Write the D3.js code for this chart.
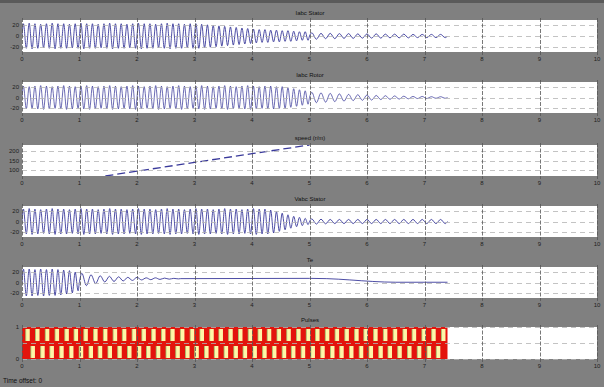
<!DOCTYPE html>
<html><head><meta charset="utf-8">
<script src="https://cdn.jsdelivr.net/npm/d3@7"></script>
<style>body{margin:0;background:#808080;} svg{display:block}</style>
</head><body>
<svg id="c" width="604" height="387"></svg>
<script>
// ---------- data ----------
const xTicks = [0,1,2,3,4,5,6,7,8,9,10];
const titles = ["Iabc Stator","Iabc Rotor","speed (r/m)","Vabc Stator","Te","Pulses"];
const yTickVals = [[-20,0,20],[-20,0,20],[100,150,200],[-20,0,20],[-20,0,20],[0,0.5,1]];
const yTickText = [["-20","0","20"],["-20","0","20"],["100","150","200"],["-20","0","20"],["-20","0","20"],["0","","1"]];
const yDomains = [[-30,30],[-30,30],[70,230],[-30,30],[-30,30],[0,1]];

// panel 1 : per-cycle amplitudes (fast cycles 0-5 s, slow cycles 5-7.4 s)
const p1FastAmp = [23,24,23,22,23,24,23,23,22,23,24,23,23,22,23,24,23,23,22,23,24,23,23,22,23,24,23,23,22,23,23,
                   22,21,20,19,18,17,16,15,14,13,12,12,11,11,10,10,9,8,8];
const p1SlowAmp = [6,5,5,4.5,4.5,4,4,4,3.5,3.5,3.5,3,3,3,3];
// panel 2
const p2FastAmp = [22,21,22,23,22,21,22,23,22,21,22,23,22,21,22,23,22,21,22,23,22,21,22,23,22,21,22,23,22,21,
                   22,23,22,21,22,23,22,21,22,23,22,21,22,22,21,21,19,17,15,13];
const p2SlowAmp = [10,9,8,7,6,5.5,5,4,3.5,3,2.5,2,2,1.5,1.5];
// panel 3 : speed ramp
const p3T = [1.45,2,3,4,5];
const p3V = [70,95,140,185,230];
// panel 4
const p4FastAmp = [24,25,24,23,24,25,24,24,23,24,25,24,24,23,24,25,24,24,23,24,25,24,24,23,24,25,24,24,23,24,
                   25,24,24,23,24,25,24,24,23,24,25,24,24,22,19,16,13,10,8,6];
const p4SlowAmp = [5,4.5,4,4,4,4,4,4,4,4,4,4,4,4,4];
// panel 5 : torque (cycle maxima / minima, then settled tail)
const p5FastHi = [26,26,25,26,25,26,25,24,23,20];
const p5FastLo = [-26,-26,-25,-26,-25,-25,-24,-22,-20,-16];
const p5SlowHi = [18,15,13,12,11,10,10,9,9,8.5,8];
const p5SlowLo = [-6,-2,1,2,3,4,5,5.5,6,6.5,7];
const p5TailT = [2.76,5.0,5.3,5.7,6.1,6.5,7.4];
const p5TailV = [8,8,7.5,5,2,0.5,0.5];
// panel 6 : gate pulses (gap centre times, top and bottom switches)
const pwmTop = [0.10,0.27,0.44,0.61,0.78,0.94,1.11,1.28,1.45,1.62,1.78,1.95,2.12,2.29,2.46,2.62,2.79,2.96,3.13,3.30,
                3.46,3.63,3.80,3.97,4.14,4.30,4.47,4.64,4.81,4.98,5.14,5.31,5.48,5.65,5.82,5.98,6.15,6.32,6.49,6.66,
                6.82,6.99,7.16,7.33];
const pwmBot = [0.19,0.36,0.52,0.69,0.86,1.03,1.20,1.36,1.53,1.70,1.87,2.04,2.20,2.37,2.54,2.71,2.88,3.04,3.21,3.38,
                3.55,3.72,3.88,4.05,4.22,4.39,4.56,4.72,4.89,5.06,5.23,5.40,5.56,5.73,5.90,6.07,6.24,6.40,6.57,6.74,
                6.91,7.08,7.24];
const pwmEnd = 7.4;
const fastPeriod = 0.1, slowPeriod = 0.16, switchT = 5.0;

// ---------- layout ----------
const tops = [20,82,145,206,267,327];
const heights = [32,31,31,31,31,32];
const X0 = 22, X1 = 597;
const svg = d3.select("#c");
svg.append("rect").attr("x",0).attr("y",0).attr("width",604).attr("height",387).attr("fill","#808080");
svg.append("rect").attr("x",0).attr("y",0).attr("width",604).attr("height",3).attr("fill","#5a5a5a");

const x = d3.scaleLinear().domain([0,10]).range([X0,X1]);
const blue = "#24248f";
const font = "Liberation Sans, Arial, sans-serif";

function wave(t0, period, hi, lo){
  const pts = [[t0,(hi[0]+lo[0])/2]];
  hi.forEach((h,k)=>{
    pts.push([t0+(k+0.25)*period, h]);
    pts.push([t0+(k+0.75)*period, lo[k]]);
  });
  const n = hi.length;
  pts.push([t0+n*period,(hi[n-1]+lo[n-1])/2]);
  return pts;
}
const neg = a => a.map(v=>-v);

const series = [
  [wave(0,fastPeriod,p1FastAmp,neg(p1FastAmp)).concat(wave(switchT,slowPeriod,p1SlowAmp,neg(p1SlowAmp)).slice(1))],
  [wave(0,fastPeriod,p2FastAmp,neg(p2FastAmp)).concat(wave(switchT,slowPeriod,p2SlowAmp,neg(p2SlowAmp)).slice(1))],
  [p3T.map((t,i)=>[t,p3V[i]])],
  [wave(0,fastPeriod,p4FastAmp,neg(p4FastAmp)).concat(wave(switchT,slowPeriod,p4SlowAmp,neg(p4SlowAmp)).slice(1))],
  [wave(0,fastPeriod,p5FastHi,p5FastLo).concat(wave(1.0,slowPeriod,p5SlowHi,p5SlowLo).slice(1)).concat(p5TailT.map((t,i)=>[t,p5TailV[i]]).slice(1))],
  null
];

tops.forEach((top,i)=>{
  const h = heights[i];
  const g = svg.append("g");
  const y = d3.scaleLinear().domain(yDomains[i]).range([top+h, top]);
  g.append("rect").attr("x",X0).attr("y",top).attr("width",X1-X0).attr("height",h).attr("fill","#ffffff");

  const clipId = "clip"+i;
  svg.append("clipPath").attr("id",clipId).append("rect").attr("x",X0).attr("y",top).attr("width",X1-X0).attr("height",h);
  const dg = g.append("g").attr("clip-path",`url(#${clipId})`);
  if(i===5){
    const mid = y(0.5);
    dg.append("rect").attr("x",x(0)).attr("y",top).attr("width",x(pwmEnd)-x(0)).attr("height",h).attr("fill","#e3140c");
    const w = x(0.07)-x(0);
    dg.selectAll("rect.t").data(pwmTop).join("rect").attr("class","t")
      .attr("x",d=>x(d)-w/2).attr("y",top+2).attr("width",w).attr("height",mid-top-4).attr("fill","#fff6a8");
    dg.selectAll("rect.b").data(pwmBot).join("rect").attr("class","b")
      .attr("x",d=>x(d)-w/2).attr("y",mid+3).attr("width",w).attr("height",top+h-mid-4).attr("fill","#fff6a8");
    dg.selectAll("line.gt").data(pwmTop).join("line").attr("class","gt")
      .attr("x1",d=>x(d)-w/2).attr("x2",d=>x(d)-w/2).attr("y1",top+2).attr("y2",mid-2).attr("stroke","#9bd27a").attr("stroke-width",0.8);
    dg.selectAll("line.gb").data(pwmBot).join("line").attr("class","gb")
      .attr("x1",d=>x(d)-w/2).attr("x2",d=>x(d)-w/2).attr("y1",mid+3).attr("y2",top+h-1).attr("stroke","#9bd27a").attr("stroke-width",0.8);
  }

  g.selectAll("line.hg").data(yTickVals[i]).join("line").attr("class","hg")
    .attr("x1",X0).attr("x2",X1).attr("y1",d=>Math.round(y(d))+0.5).attr("y2",d=>Math.round(y(d))+0.5)
    .attr("stroke","#b4b4b4").attr("stroke-width",0.8).attr("stroke-dasharray","5,4");
  g.selectAll("line.vg").data(xTicks).join("line").attr("class","vg")
    .attr("x1",d=>Math.round(x(d))+0.5).attr("x2",d=>Math.round(x(d))+0.5).attr("y1",top-2).attr("y2",top+h+3)
    .attr("stroke","#555555").attr("stroke-width",0.8).attr("stroke-dasharray","4,1.5");

  if(series[i]){
    const line = d3.line().x(d=>x(d[0])).y(d=>y(d[1])).curve(i===2?d3.curveLinear:d3.curveMonotoneX);
    series[i].forEach(s=>{
      dg.append("path").attr("d",line(s)).attr("fill","none").attr("stroke",blue)
        .attr("stroke-width",i===2?1.3:0.9).attr("stroke-dasharray",i===2?"8,4":null).attr("opacity",i===1?0.75:0.9);
    });
  }

  g.selectAll("text.xt").data(xTicks).join("text").attr("class","xt")
    .attr("x",d=>x(d)).attr("y",top+h+9).attr("text-anchor","middle")
    .attr("font-family",font).attr("font-size",6).attr("fill","#202020").text(d=>d);
  g.selectAll("text.yt").data(yTickVals[i]).join("text").attr("class","yt")
    .attr("x",X0-3).attr("y",d=>y(d)+2).attr("text-anchor","end")
    .attr("font-family",font).attr("font-size",6).attr("fill","#202020").text((d,j)=>yTickText[i][j]);
  g.append("text").attr("x",310).attr("y",top-5).attr("text-anchor","middle")
    .attr("font-family",font).attr("font-size",6).attr("fill","#101010").text(titles[i]);
});

svg.append("text").attr("x",3).attr("y",383).attr("font-family",font).attr("font-size",6.5)
  .attr("fill","#101010").text("Time offset:  0");
</script>
</body></html>
